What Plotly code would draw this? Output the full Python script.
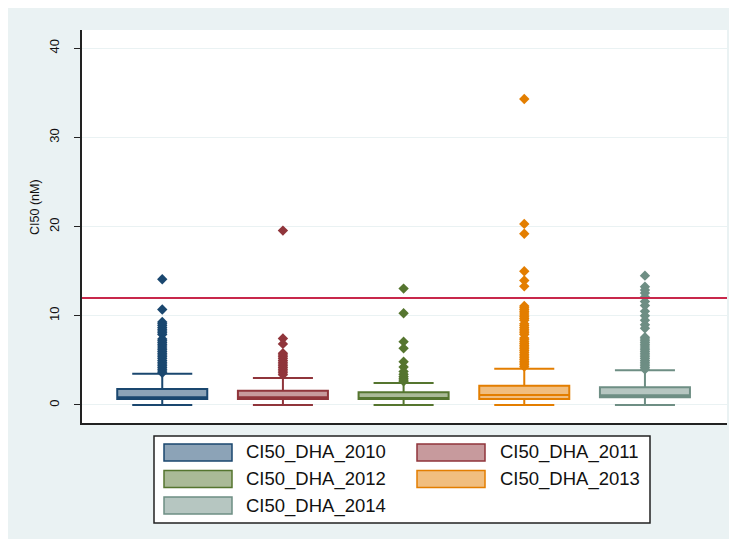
import plotly.graph_objects as go

# ---------------- data ----------------
series = ["CI50_DHA_2010", "CI50_DHA_2011", "CI50_DHA_2012", "CI50_DHA_2013", "CI50_DHA_2014"]
positions = [1, 2, 3, 4, 5]
q1 = [0.67, 0.67, 0.67, 0.67, 0.86]
median = [0.86, 0.86, 0.78, 1.12, 1.09]
q3 = [1.79, 1.60, 1.42, 2.16, 1.98]
lower_fence = [0.0, 0.0, 0.0, 0.0, 0.0]
upper_fence = [3.50, 3.03, 2.47, 4.07, 3.89]

outliers_2010 = [14.1, 10.7, 9.3, 9.1, 8.9, 8.7, 8.5, 8.3, 8.1, 7.9, 7.4, 7.2, 7.0, 6.8, 6.6, 6.4,
                 6.2, 6.0, 5.8, 5.6, 5.4, 5.2, 5.0, 4.8, 4.6, 4.4, 4.2, 4.0, 3.8, 3.6]
outliers_2011 = [19.55, 7.45, 6.85, 5.8, 5.6, 5.4, 5.2, 5.0, 4.8, 4.6, 4.4, 4.2, 4.0, 3.8, 3.6, 3.4]
outliers_2012 = [13.05, 10.28, 7.1, 6.35, 4.85, 4.25, 3.75, 3.45, 3.2, 3.0, 2.8, 2.65]
outliers_2013 = [34.3, 20.3, 19.2, 15.0, 13.95, 13.3, 11.1, 10.9, 10.7, 10.5, 10.3, 10.1, 9.9,
                 9.7, 9.5, 9.1, 8.9, 8.7, 8.5, 8.3, 8.1, 7.9, 7.5, 7.3, 7.1, 6.9, 6.7, 6.5, 6.3,
                 6.1, 5.9, 5.7, 5.5, 5.3, 5.1, 4.9, 4.7, 4.5, 4.3]
outliers_2014 = [14.5, 13.25, 12.9, 12.55, 12.1, 11.6, 11.15, 10.5, 10.0, 9.5, 9.0, 8.6, 7.6, 7.4,
                 7.2, 7.0, 6.8, 6.6, 6.4, 6.2, 6.0, 5.8, 5.6, 5.4, 5.2, 5.0, 4.8, 4.6, 4.4, 4.2, 4.0]
outliers = [outliers_2010, outliers_2011, outliers_2012, outliers_2013, outliers_2014]

threshold = 12
y_ticks = [0, 10, 20, 30, 40]
y_title = "CI50 (nM)"

# ---------------- styles ----------------
colors = ["#1A476F", "#90353B", "#55752F", "#E37E00", "#6E8E84"]
fills = ["rgba(26,71,111,0.5)", "rgba(144,53,59,0.5)", "rgba(85,117,47,0.5)",
         "rgba(227,126,0,0.5)", "rgba(110,142,132,0.5)"]
FONT = "Liberation Sans, Arial, sans-serif"
W, H = 737, 539
OFF = 8  # page body margin
ML, MR, MT, MB = 74, 18, 22, 124
PW, PH = W - ML - MR, H - MT - MB


def px_x(px):
    # page pixel -> paper coordinate
    return (px - OFF - ML) / PW


def px_y(py):
    return (H - MB - (py - OFF)) / PH


fig = go.Figure()
for i in range(len(series)):
    fig.add_trace(go.Box(
        x=[positions[i]], q1=[q1[i]], median=[median[i]], q3=[q3[i]],
        lowerfence=[lower_fence[i]], upperfence=[upper_fence[i]],
        width=0.746, whiskerwidth=0.667,
        fillcolor=fills[i], line=dict(color=colors[i], width=2),
        boxpoints=False, name=series[i], showlegend=False, hoverinfo="skip"))
    fig.add_trace(go.Scatter(
        x=[positions[i]] * len(outliers[i]), y=outliers[i], mode="markers",
        marker=dict(symbol="diamond", size=8, color=colors[i], line=dict(width=0)),
        showlegend=False, hoverinfo="skip"))

shapes = []
# threshold line
shapes.append(dict(type="line", xref="paper", x0=0, x1=1, yref="y", y0=threshold, y1=threshold,
                   line=dict(color="#C8284B", width=2), layer="above"))

# legend box (manual, two columns with wide swatches)
shapes.append(dict(type="rect", xref="paper", yref="paper", x0=px_x(154), x1=px_x(650),
                   y0=px_y(523), y1=px_y(436), fillcolor="white",
                   line=dict(color="#222222", width=1.5)))
annotations = []
sw_x = [164, 417]
tx_x = [244, 498]
row_y = [452.5, 479, 505.5]
for i, name in enumerate(series):
    col, row = i % 2, i // 2
    cy = row_y[row]
    shapes.append(dict(type="rect", xref="paper", yref="paper",
                       x0=px_x(sw_x[col]), x1=px_x(sw_x[col] + 68),
                       y0=px_y(cy + 8.5), y1=px_y(cy - 8.5),
                       fillcolor=fills[i], line=dict(color=colors[i], width=1.5)))
    annotations.append(dict(xref="paper", yref="paper", x=px_x(tx_x[col]), y=px_y(cy),
                            text=name, showarrow=False, xanchor="left", yanchor="middle",
                            font=dict(family=FONT, size=18.5, color="#111111")))

# y-axis title (placed as in the original, slightly above the plot centre)
annotations.append(dict(xref="paper", yref="paper", x=px_x(35), y=px_y(207),
                        text=y_title, textangle=-90, showarrow=False,
                        xanchor="center", yanchor="middle",
                        font=dict(family=FONT, size=12.5, color="#111111")))

fig.update_layout(
    width=W, height=H, autosize=False,
    margin=dict(l=ML, r=MR, t=MT, b=MB, pad=0),
    paper_bgcolor="#EAF2F3", plot_bgcolor="white",
    shapes=shapes, annotations=annotations, showlegend=False,
    font=dict(family=FONT, size=12, color="#111111"),
)
fig.update_xaxes(range=[0.335, 5.68], showticklabels=False, ticks="", showgrid=False,
                 zeroline=False, showline=True, linecolor="#222222", linewidth=1.5)
fig.update_yaxes(range=[-2.02, 42.04], tickvals=y_ticks, ticktext=[str(v) for v in y_ticks],
                 tickangle=-90, ticks="outside", ticklen=6, tickcolor="#222222",
                 ticklabelstandoff=10, tickfont=dict(family=FONT, size=13),
                 showgrid=True, gridcolor="#EAF2F3", gridwidth=1, zeroline=False,
                 showline=True, linecolor="#222222", linewidth=1.5)

fig.write_html("out.html")
